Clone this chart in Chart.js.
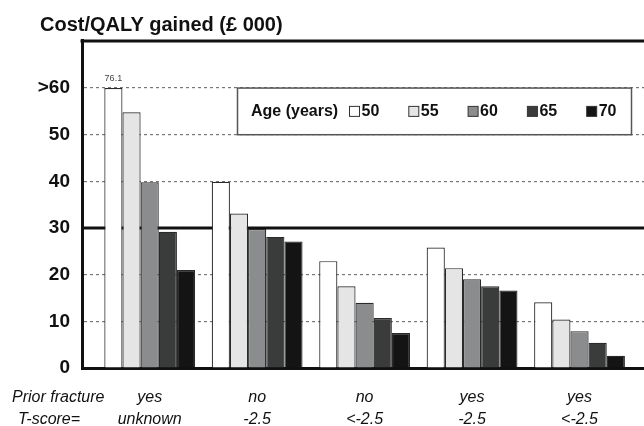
<!DOCTYPE html>
<html>
<head>
<meta charset="utf-8">
<title>Cost/QALY gained</title>
<script src="https://cdn.jsdelivr.net/npm/chart.js@4.4.1/dist/chart.umd.min.js"></script>
<style>
  html, body { margin: 0; padding: 0; background: #fff; }
  #wrap { width: 644px; height: 426px; }
</style>
</head>
<body>
<div id="wrap"><canvas id="costChart" width="644" height="426"></canvas></div>
<script>
// data
const priorFracture = ['yes', 'no', 'no', 'yes', 'yes'];
const tScore = ['unknown', '-2.5', '<-2.5', '-2.5', '<-2.5'];
const ages = ['50', '55', '60', '65', '70'];
const cost50 = [76.1, 39.9, 22.9, 25.8, 14.1];
const cost55 = [54.8, 33.1, 17.5, 21.4, 10.4];
const cost60 = [39.8, 29.8, 14.0, 19.0, 7.9];
const cost65 = [29.2, 28.1, 10.7, 17.5, 5.4];
const cost70 = [21.0, 27.1, 7.5, 16.6, 2.6];
const yTickValues = [0, 10, 20, 30, 40, 50, 60];
const capValue = 60;       // bars above this are cut and labelled
const thresholdValue = 30; // solid reference line

const ageColors = ['#ffffff', '#e4e5e4', '#8b8c8d', '#3a3b3b', '#141414'];
const allSeries = [cost50, cost55, cost60, cost65, cost70];

const FONT = 'Arial, "Liberation Sans", Helvetica, sans-serif';

const datasets = allSeries.map((vals, i) => ({
  label: ages[i],
  data: vals.map((v, j) => ({ x: j, y: Math.min(v, capValue), real: v })),
  backgroundColor: ageColors[i],
  borderColor: '#2a2a2a',
  borderWidth: 1.2,
  barPercentage: 1,
  categoryPercentage: 0.845
}));

// extra drawing: title, reference line, top frame, legend box, row headers
const decorations = {
  id: 'decorations',
  beforeDatasetsDraw(chart) {
    const { ctx, chartArea, scales } = chart;
    const y30 = scales.y.getPixelForValue(thresholdValue);
    ctx.save();
    ctx.strokeStyle = '#111';
    ctx.lineWidth = 3;
    ctx.beginPath();
    ctx.moveTo(chartArea.left, y30);
    ctx.lineTo(chartArea.right, y30);
    ctx.moveTo(chartArea.left - 1.5, chartArea.top + 1);
    ctx.lineTo(chartArea.right, chartArea.top + 1);
    ctx.stroke();
    ctx.restore();
  },
  afterDatasetsDraw(chart) {
    const { ctx, scales } = chart;
    ctx.save();

    // label for bars cut at the cap
    const meta = chart.getDatasetMeta(0);
    chart.data.datasets.forEach((ds, di) => {
      const m = chart.getDatasetMeta(di);
      ds.data.forEach((pt, j) => {
        if (pt.real > capValue) {
          const bar = m.data[j];
          ctx.font = '9px ' + FONT;
          ctx.fillStyle = '#444';
          ctx.textAlign = 'center';
          ctx.textBaseline = 'middle';
          ctx.fillText(pt.real.toFixed(1), bar.x, bar.y - 10);
        }
      });
    });

    // legend box between the 60 and 50 grid lines
    const top = scales.y.getPixelForValue(60);
    const bottom = scales.y.getPixelForValue(50);
    const left = 237.5, right = 631.5;
    const mid = (top + bottom) / 2;
    ctx.fillStyle = '#fff';
    ctx.fillRect(left, top, right - left, bottom - top);
    ctx.strokeStyle = '#555';
    ctx.lineWidth = 1.5;
    ctx.strokeRect(left, top, right - left, bottom - top);

    ctx.font = 'bold 16px ' + FONT;
    ctx.fillStyle = '#111';
    ctx.textAlign = 'left';
    ctx.textBaseline = 'middle';
    ctx.fillText('Age (years)', 251, mid);
    chart.data.datasets.forEach((ds, i) => {
      const sx = 349.5 + i * 59.3;
      ctx.fillStyle = ds.backgroundColor;
      ctx.fillRect(sx, mid - 5, 10, 10);
      ctx.strokeStyle = '#333';
      ctx.lineWidth = 1;
      ctx.strokeRect(sx, mid - 5, 10, 10);
      ctx.fillStyle = '#111';
      ctx.fillText(ds.label, sx + 12, mid);
    });
    ctx.restore();
  },
  afterDraw(chart) {
    const { ctx } = chart;
    ctx.save();
    ctx.fillStyle = '#111';
    ctx.textAlign = 'left';
    ctx.textBaseline = 'alphabetic';
    ctx.font = 'bold 20px ' + FONT;
    ctx.fillText('Cost/QALY gained (£ 000)', 40, 31);

    ctx.font = 'italic 16px ' + FONT;
    ctx.textBaseline = 'middle';
    ctx.fillText('Prior fracture', 12, 397.5);
    ctx.fillText('T-score=', 18, 419.5);
    ctx.restore();
  }
};

new Chart(document.getElementById('costChart'), {
  type: 'bar',
  data: { datasets: datasets },
  plugins: [decorations],
  options: {
    responsive: false,
    animation: false,
    devicePixelRatio: 1,
    layout: { padding: { top: 40, left: 0, right: 0, bottom: 0 } },
    plugins: {
      legend: { display: false },
      tooltip: { enabled: false },
      title: { display: false }
    },
    scales: {
      x: {
        type: 'linear',
        min: -0.63,
        max: 4.6,
        offset: false,
        afterBuildTicks: s => { s.ticks = priorFracture.map((_, i) => ({ value: i })); },
        afterFit: s => { s.height = 58; },
        grid: { display: false, drawTicks: false },
        border: { display: true, color: '#111', width: 3 },
        ticks: {
          autoSkip: false,
          maxRotation: 0,
          padding: 18.5,
          color: '#111',
          font: { family: FONT, size: 16, style: 'italic', lineHeight: 1.375 },
          callback: v => [priorFracture[v], tScore[v]]
        }
      },
      y: {
        min: 0,
        max: 70.3,
        afterBuildTicks: s => { s.ticks = yTickValues.map(v => ({ value: v })); },
        afterFit: s => { s.width = 82; },
        grid: {
          drawTicks: false,
          lineWidth: 1.2,
          color: c => (c.tick && (c.tick.value === 0 || c.tick.value === thresholdValue)) ? 'rgba(0,0,0,0)' : '#777'
        },
        border: { display: true, color: '#111', width: 3, dash: [3, 3] },
        ticks: {
          padding: 12,
          color: '#111',
          font: { family: FONT, size: 19, weight: 'bold' },
          callback: v => v === capValue ? '>' + v : String(v)
        }
      }
    }
  }
});
</script>
</body>
</html>
